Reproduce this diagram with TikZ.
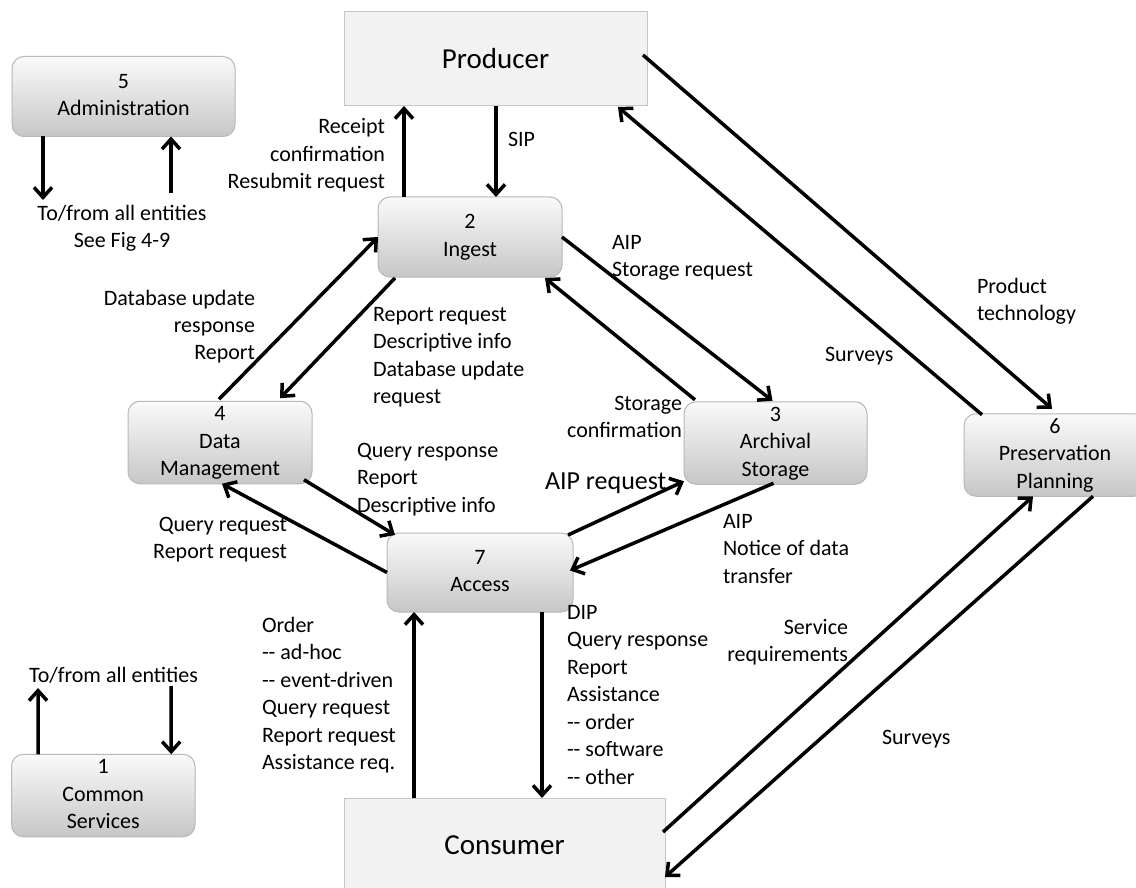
\documentclass[tikz,border=0pt]{standalone}
\usepackage{fontspec}
\setmainfont{Carlito}
\usetikzlibrary{arrows.meta,calc}
\newcommand{\lblL}[1]{\begin{tabular}[t]{@{}l@{}}#1\end{tabular}}
\newcommand{\lblR}[1]{\begin{tabular}[t]{@{}r@{}}#1\end{tabular}}
\newcommand{\lblC}[1]{\begin{tabular}[t]{@{}c@{}}#1\end{tabular}}
\newcommand{\boxC}[1]{\begin{tabular}{@{}c@{}}#1\end{tabular}}
\begin{document}
\begin{tikzpicture}[x=1pt,y=-1pt,
  every node/.style={font=\fontsize{22}{27.5}\selectfont, inner sep=0pt, outer sep=0pt},
  proc/.style={rectangle, rounded corners=12pt, draw=black!28, line width=1pt,
    top color=black!2, bottom color=black!22, minimum height=80pt},
  ext/.style={rectangle, draw=black!22, line width=1pt, fill=black!5,
    minimum height=94pt, font=\fontsize{29}{34}\selectfont},
  flow/.style={line width=3.5pt, -{Straight Barb[length=10pt,width=18pt]}},
  big/.style={font=\fontsize{26}{30}\selectfont}]
\useasboundingbox (0,0) rectangle (1136,888);
\fill[white] (0,0) rectangle (1136,888);
\clip (0,0) rectangle (1136,888);

% boxes
\node[proc, minimum width=223pt] (admin) at (123.5,96.5) {\boxC{5\\Administration}};
\node[ext, minimum width=303pt] (producer) at (495.5,59) {Producer};
\node[proc, minimum width=184pt] (ingest) at (470,237) {\boxC{2\\Ingest}};
\node[proc, minimum width=184pt, minimum height=79pt] (dm) at (220,442.5) {\boxC{4\\Data\\Management}};
\node[proc, minimum width=183pt] (arch) at (775.5,443) {\boxC{3\\Archival\\Storage}};
\node[proc, minimum width=182pt] (pres) at (1055,455) {\boxC{6\\Preservation\\Planning}};
\node[proc, minimum width=186pt, minimum height=79pt] (access) at (480,572.5) {\boxC{7\\Access}};
\node[proc, minimum width=183.5pt, minimum height=81pt] (common) at (103.25,795.5) {\boxC{1\\Common\\Services}};
\node[ext, minimum width=321pt] (consumer) at (504.5,845) {Consumer};

% free ends
\coordinate (adminOut) at (43,200);
\coordinate (adminIn) at (171,193);
\coordinate (commonOut) at (38,688);
\coordinate (commonIn) at (171,686);

% connectors
\draw[flow] ($(admin.south west)+(31,0)$) -- (adminOut);
\draw[flow] (adminIn) -- ($(admin.south west)+(159,0)$);
\draw[flow] ($(ingest.north west)+(26,0)$) -- ($(producer.south west)+(60,0)$);
\draw[flow] ($(producer.south west)+(152,0)$) -- ($(ingest.north west)+(118,0)$);
\draw[flow] (ingest.east) -- ($(arch.north)+(-3,-1)$);
\draw[flow] ($(arch.north west)+(11,-2)$) -- ($(ingest.south east)+(-17,1)$);
\draw[flow] ($(dm.north)+(-1,-2)$) -- (ingest.west);
\draw[flow] ($(ingest.south west)+(17,1)$) -- ($(dm.north east)+(-32,-3)$);
\draw[flow] ($(dm.south east)+(-8,-4)$) -- ($(access.north west)+(8,2)$);
\draw[flow] (access.west) -- ($(dm.south)+(2,0)$);
\draw[flow] ($(access.north east)+(-5,2)$) -- ($(arch.south west)+(0,-3)$);
\draw[flow] ($(arch.south)+(-2,-1)$) -- ($(access.east)+(-3,-2)$);
\draw[flow] ($(consumer.north west)+(70,0)$) -- ($(access.south west)+(27,0)$);
\draw[flow] ($(access.south west)+(155,0)$) -- ($(consumer.north west)+(198,0)$);
\draw[flow] ($(producer.east)+(-4,-4)$) -- ($(pres.north)+(-3,-5)$);
\draw[flow] ($(pres.north west)+(18,1)$) -- ($(producer.south east)+(-29,1)$);
\draw[flow] ($(consumer.east)+(-2,-13)$) -- ($(pres.south)+(-22,0)$);
\draw[flow] ($(pres.south)+(38,0)$) -- ($(consumer.east)+(0,32)$);
\draw[flow] ($(common.north west)+(26.75,0)$) -- (commonOut);
\draw[flow] (commonIn) -- ($(common.north west)+(159.75,0)$);

% labels
\node[anchor=base] (lAdmin) at (122,220) {\lblC{To/from all entities\\See Fig 4-9}};
\node[anchor=base east] (lReceipt) at (385,134) {\lblR{Receipt\\confirmation\\Resubmit request}};
\node[anchor=base west] (lSIP) at (508,147) {SIP};
\node[anchor=base west] (lAIP) at (612,249) {\lblL{AIP\\Storage request}};
\node[anchor=base east] (lStConf) at (682,410) {\lblR{Storage\\confirmation}};
\node[anchor=base east] (lDbResp) at (255,305) {\lblR{Database update\\response\\Report}};
\node[anchor=base west] (lRepReq) at (373,321) {\lblL{Report request\\Descriptive info\\Database update\\request}};
\node[anchor=base west] (lQResp) at (357,457) {\lblL{Query response\\Report\\Descriptive info}};
\node[anchor=base east] (lQReq) at (287,531) {\lblR{Query request\\Report request}};
\node[big, anchor=base west] (lAIPReq) at (545,489) {AIP request};
\node[anchor=base west] (lNotice) at (723,528) {\lblL{AIP\\Notice of data\\transfer}};
\node[anchor=base west] (lOrder) at (262,632) {\lblL{Order\\-{}- ad-hoc\\-{}- event-driven\\Query request\\Report request\\Assistance req.}};
\node[anchor=base west] (lDIP) at (567,619) {\lblL{DIP\\Query response\\Report\\Assistance\\-{}- order\\-{}- software\\-{}- other}};
\node[anchor=base east] (lService) at (848,634) {\lblR{Service\\requirements}};
\node[anchor=base west] (lSurvLow) at (882,744) {Surveys};
\node[anchor=base west] (lSurvUp) at (825,361) {Surveys};
\node[anchor=base west] (lProduct) at (977,293) {\lblL{Product\\technology}};
\node[anchor=base west] (lCommon) at (29,682) {To/from all entities};
\end{tikzpicture}
\end{document}
